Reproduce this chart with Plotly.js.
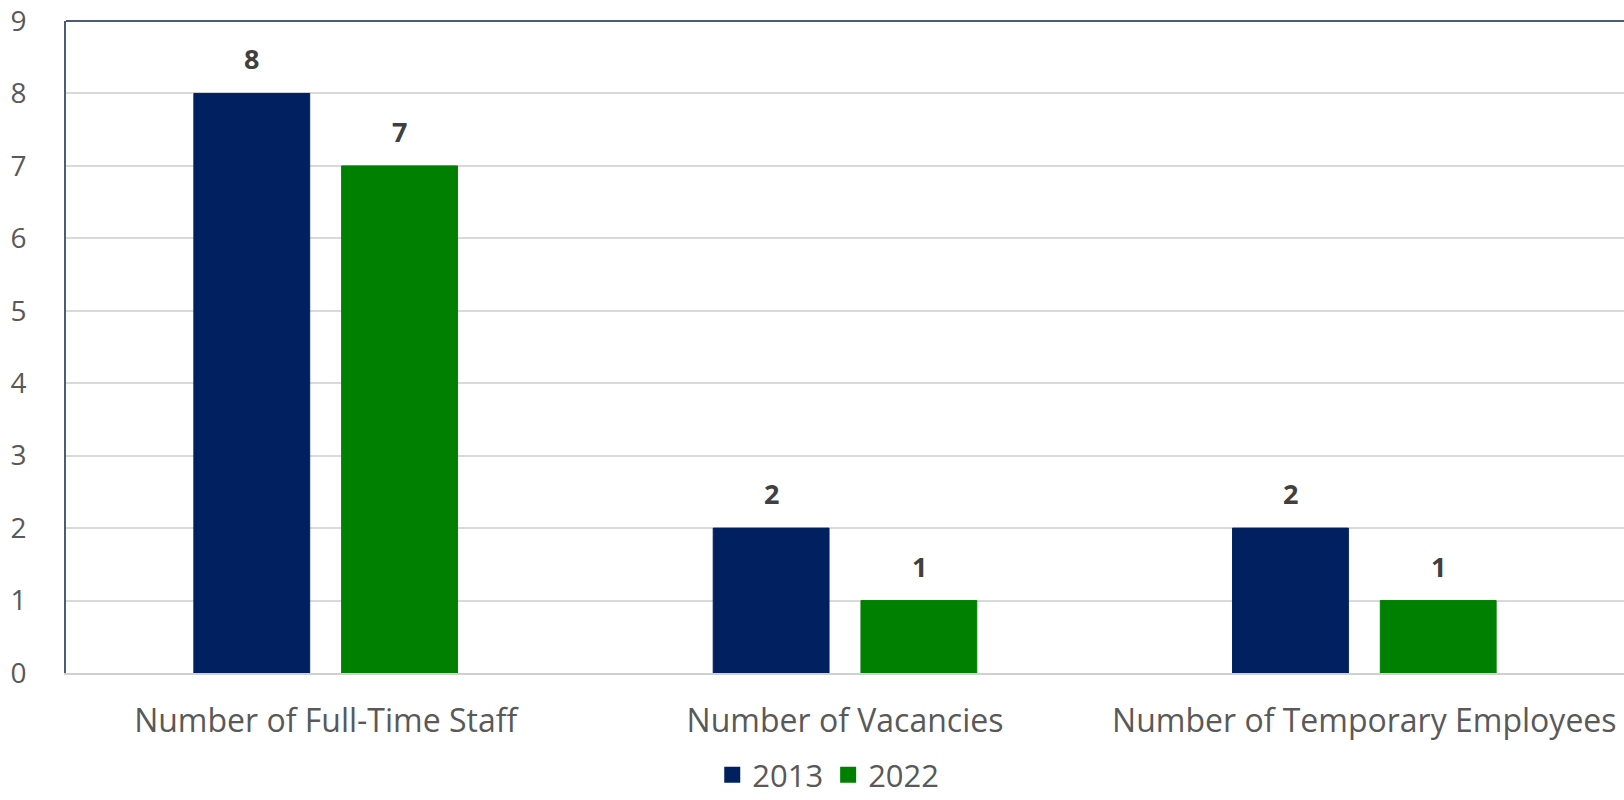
<!DOCTYPE html>
<html>
<head>
<meta charset="utf-8">
<script src="https://cdn.plot.ly/plotly-3.0.1.min.js"></script>
<style>html,body{margin:0;padding:0;background:#fff}#chart{width:1624px;height:800px}</style>
</head>
<body>
<div id="chart"></div>
<script>
var categories = ["Number of Full-Time Staff", "Number of Vacancies", "Number of Temporary Employees"];
var seriesNames = ["2013", "2022"];
var values2013 = [8, 2, 2];
var values2022 = [7, 1, 1];
var yTicks = [0, 1, 2, 3, 4, 5, 6, 7, 8, 9];

var colors = ["#002060", "#008000"];
var seriesValues = [values2013, values2022];
var font = "Open Sans, sans-serif";

var traces = [];
seriesValues.forEach(function (vals, i) {
  traces.push({
    type: "bar", name: seriesNames[i], x: categories, y: vals,
    marker: {color: colors[i], line: {color: colors[i], width: 1}},
    showlegend: false, hoverinfo: "x+y"
  });
});
seriesValues.forEach(function (vals, i) {
  traces.push({
    type: "scatter", mode: "markers", name: seriesNames[i], x: [null], y: [null],
    marker: {symbol: "square", size: 20, color: colors[i]},
    showlegend: true
  });
});

var annotations = [];
seriesValues.forEach(function (vals, i) {
  vals.forEach(function (v, j) {
    annotations.push({
      x: categories[j], y: v, text: String(v), showarrow: false,
      xanchor: "center", yanchor: "bottom",
      xshift: (i === 0 ? -74 : 74), yshift: 14,
      font: {family: font, size: 27, color: "#404040", weight: "bold"}
    });
  });
});

var layout = {
  width: 1624, height: 800,
  margin: {l: 66, r: 0, t: 21, b: 127},
  paper_bgcolor: "#ffffff", plot_bgcolor: "#ffffff",
  barmode: "group", bargap: 0.431, bargroupgap: 0.216,
  font: {family: font, color: "#595959", size: 28},
  xaxis: {
    type: "category", showgrid: false, zeroline: false,
    showline: true, linecolor: "#d0d0d0", linewidth: 2,
    ticks: "", ticklabelstandoff: 19, tickangle: 0, automargin: false,
    tickfont: {family: font, size: 32, color: "#595959"}
  },
  yaxis: {
    range: [0, 9], tickvals: yTicks, ticktext: yTicks.map(String),
    showgrid: true, gridcolor: "#d9d9d9", gridwidth: 2,
    zeroline: false, showline: true, linecolor: "#4b5b78", linewidth: 2,
    ticks: "", ticklabelstandoff: 32, automargin: false,
    tickfont: {family: font, size: 28, color: "#595959"}
  },
  shapes: [{
    type: "line", xref: "paper", yref: "paper", x0: 0, x1: 1, y0: 1, y1: 1,
    line: {color: "#4b5b78", width: 2}
  }],
  annotations: annotations,
  showlegend: true,
  legend: {
    orientation: "h", xref: "container", yref: "container",
    x: 0.51, xanchor: "center", y: 0.031, yanchor: "middle",
    itemsizing: "trace", traceorder: "normal",
    font: {family: font, size: 31, color: "#595959"}, itemwidth: 30
  }
};

Plotly.newPlot("chart", traces, layout, {displayModeBar: false, responsive: false});
</script>
</body>
</html>
